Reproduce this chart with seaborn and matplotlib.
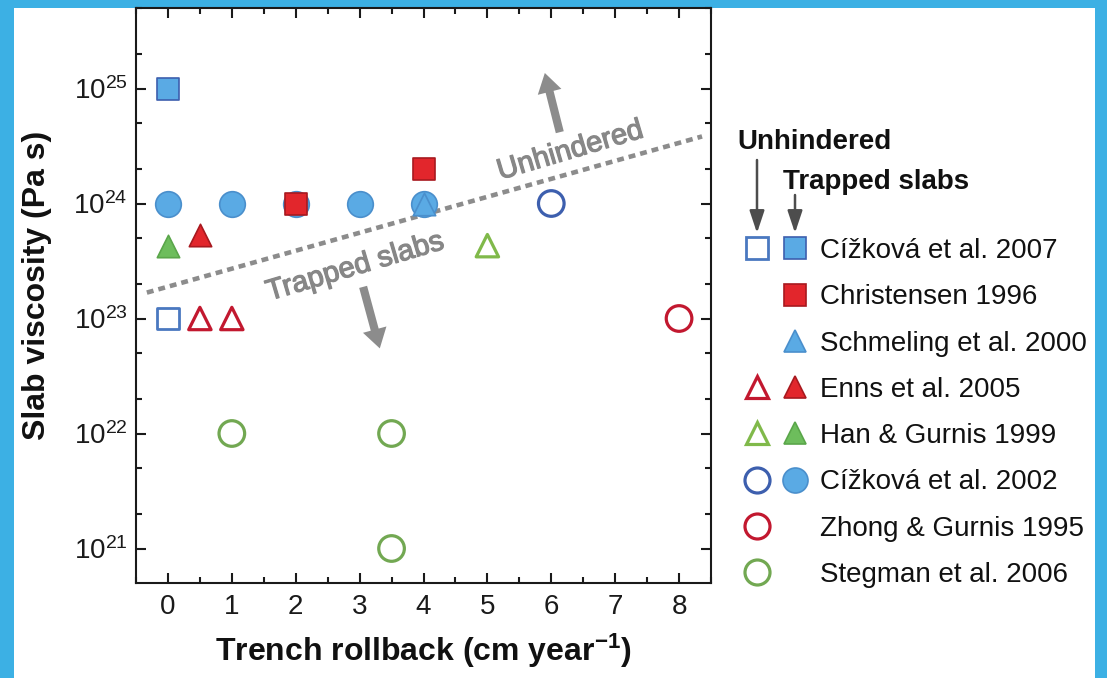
import numpy as np
import matplotlib
matplotlib.use("Agg")
import matplotlib.pyplot as plt
import matplotlib.patheffects as pe
import seaborn as sns
from matplotlib.lines import Line2D
from matplotlib.patches import Rectangle, FancyArrowPatch
from matplotlib.legend_handler import HandlerTuple
from matplotlib.ticker import FixedLocator, FuncFormatter

# ---- data: trench rollback (cm/yr) vs slab viscosity (Pa s) ----
cizkova07_unh_x = [0];            cizkova07_unh_y = [1e23]
cizkova07_trap_x = [0];           cizkova07_trap_y = [1e25]
christensen_x = [2, 4];           christensen_y = [1e24, 2e24]
schmeling_x = [4];                schmeling_y = [1e24]
enns_unh_x = [0.5, 1];            enns_unh_y = [1e23, 1e23]
enns_trap_x = [0.5];              enns_trap_y = [5.3e23]
han_unh_x = [5];                  han_unh_y = [4.3e23]
han_trap_x = [0];                 han_trap_y = [4.3e23]
cizkova02_unh_x = [6];            cizkova02_unh_y = [1e24]
cizkova02_trap_x = [0, 1, 2, 3, 4]
cizkova02_trap_y = [1e24, 1e24, 1e24, 1e24, 1e24]
zhong_unh_x = [8];                zhong_unh_y = [1e23]
stegman_unh_x = [1, 3.5, 3.5];    stegman_unh_y = [1e22, 1e22, 1e21]

# regime boundary between trapped and unhindered slabs
boundary_x = [-0.33, 8.36]
boundary_y = [1.68e23, 3.83e24]

study_labels = ["Cížková et al. 2007", "Christensen 1996", "Schmeling et al. 2000",
                "Enns et al. 2005", "Han & Gurnis 1999", "Cížková et al. 2002",
                "Zhong & Gurnis 1995", "Stegman et al. 2006"]
x_ticks = [0, 1, 2, 3, 4, 5, 6, 7, 8]
y_decades = [21, 22, 23, 24, 25]

# ---- styling ----
BLUE_FILL, BLUE_EDGE, BLUE_OPEN = "#5aaae4", "#4a8fcc", "#3d5fae"
RED_FILL, RED_EDGE, RED_OPEN = "#e2262c", "#a8191f", "#c2182f"
GREEN_FILL, GREEN_EDGE = "#6dbd5c", "#5aa64a"
GREEN_OPEN_T, GREEN_OPEN_C = "#80b94a", "#72a852"
GUIDE = "#8c8c8c"

sns.set_theme(style="ticks")
plt.rcParams["font.family"] = ["Liberation Sans", "DejaVu Sans"]
plt.rcParams["mathtext.fontset"] = "custom"
plt.rcParams["mathtext.rm"] = "Liberation Sans"
plt.rcParams["mathtext.bf"] = "Liberation Sans:bold"
plt.rcParams["mathtext.default"] = "rm"

W, H = 1107, 678
fig = plt.figure(figsize=(W / 100, H / 100), dpi=100, facecolor="#3cb0e4")
fig.patches.append(Rectangle((14 / W, 0), (1095 - 14) / W, (H - 8) / H,
                             transform=fig.transFigure, facecolor="white",
                             edgecolor="none", zorder=-10))

ax = fig.add_axes([136 / W, (H - 583) / H, (711 - 136) / W, (583 - 8) / H])
ax.set_facecolor("white")

# guide line separating the two regimes
ax.plot(boundary_x, boundary_y, color=GUIDE, lw=3.3, dashes=(1.5, 1.1),
        solid_capstyle="butt", zorder=1)

S_CIRC, S_SQ, S_TRI = 340, 250, 260

series = [
    # (x, y, marker, size, face, edge, lw)
    (cizkova02_trap_x, cizkova02_trap_y, "o", S_CIRC, BLUE_FILL, BLUE_EDGE, 1.2),
    (cizkova02_unh_x, cizkova02_unh_y, "o", S_CIRC, "none", BLUE_OPEN, 2.3),
    (cizkova07_trap_x, cizkova07_trap_y, "s", S_SQ, BLUE_FILL, BLUE_OPEN, 1.2),
    (cizkova07_unh_x, cizkova07_unh_y, "s", S_SQ, "none", "#4a78c0", 2.0),
    (christensen_x, christensen_y, "s", S_SQ, RED_FILL, RED_EDGE, 1.2),
    (schmeling_x, schmeling_y, "^", S_TRI, BLUE_FILL, BLUE_EDGE, 1.2),
    (enns_unh_x, enns_unh_y, "^", S_TRI, "none", RED_OPEN, 2.3),
    (enns_trap_x, enns_trap_y, "^", S_TRI, RED_FILL, RED_EDGE, 1.2),
    (han_unh_x, han_unh_y, "^", S_TRI, "none", GREEN_OPEN_T, 2.3),
    (han_trap_x, han_trap_y, "^", S_TRI, GREEN_FILL, GREEN_EDGE, 1.2),
    (zhong_unh_x, zhong_unh_y, "o", S_CIRC, "none", RED_OPEN, 2.3),
    (stegman_unh_x, stegman_unh_y, "o", S_CIRC, "none", GREEN_OPEN_C, 2.3),
]
for i, (xs, ys, m, s, fc, ec, lw) in enumerate(series):
    sns.scatterplot(x=xs, y=ys, marker=m, s=s, facecolor=fc, edgecolor=ec,
                    linewidth=lw, ax=ax, zorder=3 + i)

# ---- axes ----
ax.set_yscale("log")
ax.set_xlim(-0.5, 8.5)
ax.set_ylim(10 ** 20.7, 10 ** 25.7)
ax.set_xticks(x_ticks)
ax.set_xticklabels([str(v) for v in x_ticks])
ax.xaxis.set_minor_locator(FixedLocator(np.arange(-0.5, 8.51, 0.5)))
ax.yaxis.set_major_locator(FixedLocator([10.0 ** d for d in y_decades]))
ax.yaxis.set_major_formatter(FuncFormatter(lambda v, p: r"$10^{%d}$" % round(np.log10(v))))
minor_y = [m * 10.0 ** d for d in range(20, 26) for m in (2, 5)]
ax.yaxis.set_minor_locator(FixedLocator(minor_y))
ax.yaxis.set_minor_formatter(FuncFormatter(lambda v, p: ""))

for sp in ax.spines.values():
    sp.set_linewidth(1.5)
    sp.set_color("#1a1a1a")
    sp.set_visible(True)
ax.tick_params(which="both", direction="in", top=True, right=True,
               color="#1a1a1a", width=1.5, labelsize=20, labelcolor="#1a1a1a")
ax.tick_params(which="major", length=7.5)
ax.tick_params(which="minor", length=4.5)
ax.tick_params(axis="x", pad=8)
ax.tick_params(axis="y", pad=6)
ax.grid(False)

ax.set_xlabel(r"Trench rollback (cm year$^{\mathbf{-1}}$)", fontsize=23,
              fontweight="bold", color="#111111")
ax.set_ylabel("Slab viscosity (Pa s)", fontsize=23, fontweight="bold", color="#111111")
ax.xaxis.set_label_coords(0.5, -0.118)
ax.xaxis.label.set_va("center")
ax.yaxis.set_label_coords(-0.172, 0.518)
ax.yaxis.label.set_va("center")

# regime annotations
heavy = [pe.withStroke(linewidth=0.9, foreground="#878787")]
ax.text(0.755, 0.752, "Unhindered", transform=ax.transAxes, rotation=16.5,
        rotation_mode="anchor", ha="center", va="center", fontsize=21,
        color="#878787", path_effects=heavy)
ax.text(0.381, 0.55, "Trapped slabs", transform=ax.transAxes, rotation=16.5,
        rotation_mode="anchor", ha="center", va="center", fontsize=21,
        color="#878787", path_effects=heavy)
thick = dict(arrowstyle="simple,head_length=1.0,head_width=1.25,tail_width=0.42",
             color=GUIDE, mutation_scale=14, shrinkA=0, shrinkB=0, lw=0)
ax.annotate("", xy=(0.711, 0.887), xytext=(0.737, 0.784), xycoords="axes fraction",
            arrowprops=thick)
ax.annotate("", xy=(0.424, 0.408), xytext=(0.395, 0.515), xycoords="axes fraction",
            arrowprops=thick)

# ---- legend ----
def proxy(marker, face, edge, ms, mew):
    return Line2D([], [], linestyle="none", marker=marker, markersize=ms,
                  markerfacecolor=face, markeredgecolor=edge, markeredgewidth=mew)

blank = Line2D([], [], linestyle="none", marker="")
handles = [
    (proxy("s", "none", "#4a78c0", 15.5, 2.0), proxy("s", BLUE_FILL, BLUE_OPEN, 15.5, 1.2)),
    (blank, proxy("s", RED_FILL, RED_EDGE, 15.5, 1.2)),
    (blank, proxy("^", BLUE_FILL, BLUE_EDGE, 16, 1.2)),
    (proxy("^", "none", RED_OPEN, 16, 2.3), proxy("^", RED_FILL, RED_EDGE, 16, 1.2)),
    (proxy("^", "none", GREEN_OPEN_T, 16, 2.3), proxy("^", GREEN_FILL, GREEN_EDGE, 16, 1.2)),
    (proxy("o", "none", BLUE_OPEN, 18, 2.3), proxy("o", BLUE_FILL, BLUE_EDGE, 18, 1.2)),
    (proxy("o", "none", RED_OPEN, 18, 2.3), blank),
    (proxy("o", "none", GREEN_OPEN_C, 18, 2.3), blank),
]
fig.legend(handles, study_labels, handler_map={tuple: HandlerTuple(ndivide=None, pad=0.43)},
           loc="upper left", bbox_to_anchor=(744 / W, (H - 238) / H), frameon=False,
           fontsize=20, handlelength=2.3, handletextpad=0.435, labelspacing=0.73,
           borderpad=0, borderaxespad=0, labelcolor="#111111")

fig.text(737 / W, (H - 142) / H, "Unhindered", fontsize=20, fontweight="bold",
         ha="left", va="center", color="#111111")
fig.text(783 / W, (H - 182) / H, "Trapped slabs", fontsize=20, fontweight="bold",
         ha="left", va="center", color="#111111")
thin = dict(arrowstyle="-|>,head_length=0.9,head_width=0.3", color="#4d4d4d",
            lw=1.8, shrinkA=0, shrinkB=0, mutation_scale=15)
fig.add_artist(FancyArrowPatch((757 / W, (H - 160) / H), (757 / W, (H - 233) / H),
                               transform=fig.transFigure, **thin))
fig.add_artist(FancyArrowPatch((795 / W, (H - 195) / H), (795 / W, (H - 233) / H),
                               transform=fig.transFigure, **thin))

fig.savefig("out.png", dpi=100, facecolor=fig.get_facecolor())
